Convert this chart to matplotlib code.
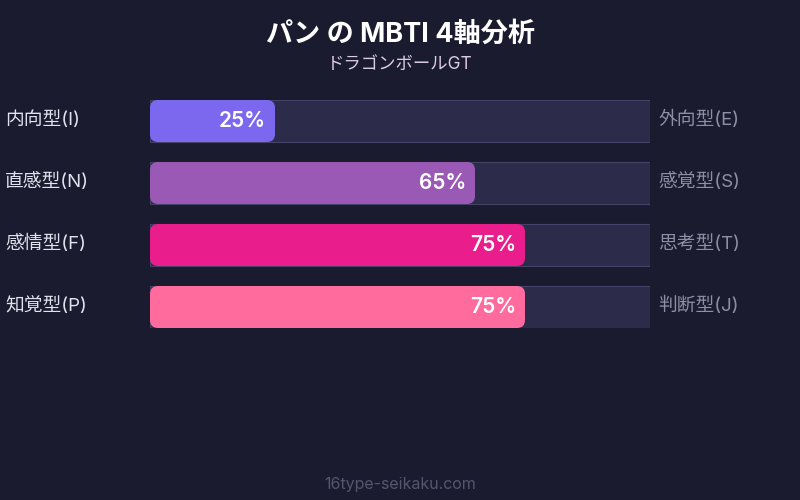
import matplotlib
matplotlib.use("Agg")
import matplotlib.pyplot as plt
from matplotlib.patches import FancyBboxPatch, Rectangle

plt.rcParams['font.family'] = ['Inter', 'Noto Sans CJK JP', 'DejaVu Sans']

# data
left_labels = ["内向型(I)", "直感型(N)", "感情型(F)", "知覚型(P)"]
right_labels = ["外向型(E)", "感覚型(S)", "思考型(T)", "判断型(J)"]
values = [25, 65, 75, 75]
colors = ["#7b68ee", "#9b59b6", "#e91e8c", "#ff6b9d"]

title = "パン の MBTI 4軸分析"
subtitle = "ドラゴンボールGT"
footer = "16type-seikaku.com"

bg = "#1a1b2e"
W, H = 800, 500

fig = plt.figure(figsize=(8, 5), dpi=100, facecolor=bg)

# bar area: x 150..650 px, y 100..328 px
ax = fig.add_axes([150 / W, 1 - 328 / H, 500 / W, 228 / H])
ax.set_facecolor(bg)
ax.set_xlim(0, 100)
half = 21 / 62
ax.set_ylim(len(values) - 1 + half, -half)
ax.axis("off")

aspect = 5 / 62  # y units per px / x units per px
for i, v in enumerate(values):
    ax.add_patch(Rectangle((0, i - half), 100, 2 * half, facecolor="#2d2b4a",
                           edgecolor="#444266", linewidth=0.8))
    ax.add_patch(FancyBboxPatch((0, i - half), v, 2 * half,
                                boxstyle="round,pad=0,rounding_size=1.6",
                                mutation_aspect=aspect,
                                facecolor=colors[i], edgecolor="none"))
    ax.text(v - 1.8, i + 0.0, f"{v}%", ha="right", va="center", color="white",
            fontsize=15, fontweight="semibold")
    ax.text(-29, i - 0.01, left_labels[i], ha="left", va="center", color="#e2e2ee",
            fontsize=13.5, clip_on=False)
    ax.text(101.6, i - 0.01, right_labels[i], ha="left", va="center", color="#8e8ea6",
            fontsize=13.5, clip_on=False)

fig.text(0.5, 1 - 35 / H, title, ha="center", va="center", color="white",
         fontsize=19.5, fontweight="bold")
fig.text(0.5, 1 - 64 / H, subtitle, ha="center", va="center", color="#dccbe8",
         fontsize=12.5)
fig.text(0.5, 1 - 485 / H, footer, ha="center", va="center", color="#54566f",
         fontsize=11.5)

fig.savefig("out.png", dpi=100, facecolor=bg)
